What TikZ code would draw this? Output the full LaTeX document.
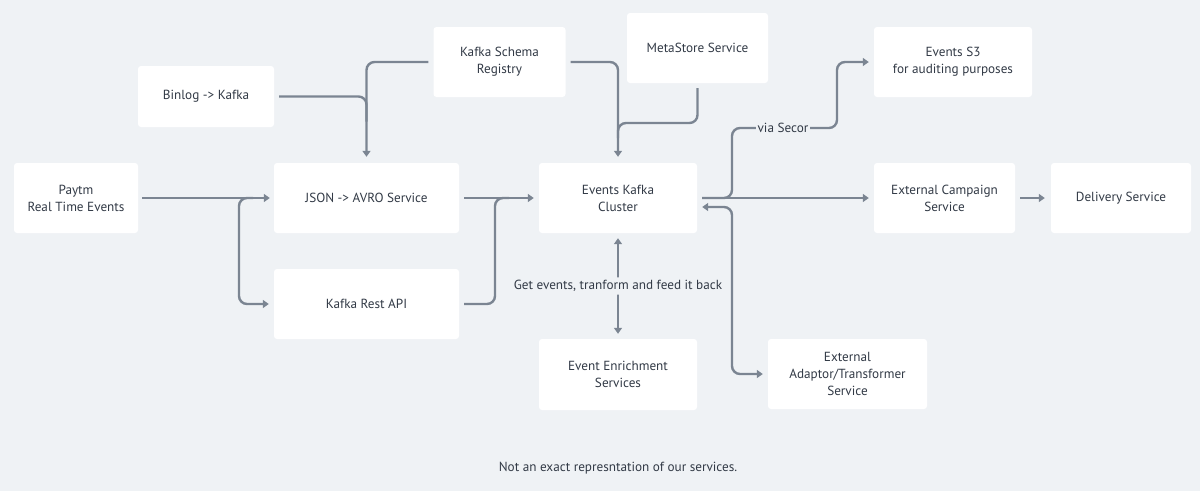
\documentclass[tikz,border=0pt]{standalone}
\usepackage{fontspec}
\setmainfont{PT Sans}
\usetikzlibrary{arrows.meta}
\definecolor{bg}{HTML}{EFF2F5}
\definecolor{txt}{HTML}{323A46}
\definecolor{ln}{HTML}{7B8592}
\tikzset{
  box/.style={rectangle, fill=white, rounded corners=3pt, inner sep=0pt, align=center,
    text=txt, font=\fontsize{13.2}{17}\selectfont},
  line/.style={draw=ln, line width=2.4pt, rounded corners=8pt},
  conn/.style={line, -{Triangle[width=8pt,length=6pt]}},
  conntwo/.style={line, {Triangle[width=8pt,length=6pt]}-{Triangle[width=8pt,length=6pt]}},
  lbl/.style={fill=bg, text=txt, inner sep=1.5pt, font=\fontsize{13.2}{17}\selectfont},
}
\begin{document}
\begin{tikzpicture}[x=1pt,y=-1pt]
\fill[bg] (0,0) rectangle (1200,491);
\useasboundingbox (0,0) rectangle (1200,491);

\node[box, minimum width=124pt, minimum height=70pt] (paytm) at (76,198) {Paytm\\Real Time Events};
\node[box, minimum width=185pt, minimum height=70pt] (json) at (366.5,198) {JSON -> AVRO Service};
\node[box, minimum width=185pt, minimum height=70pt] (rest) at (366.5,304) {Kafka Rest API};
\node[box, minimum width=136pt, minimum height=61pt] (binlog) at (206,96.5) {Binlog -> Kafka};
\node[box, minimum width=132pt, minimum height=70pt] (schema) at (499.5,62) {Kafka Schema\\Registry};
\node[box, minimum width=141pt, minimum height=70pt] (meta) at (697.5,48) {MetaStore Service};
\node[box, minimum width=158pt, minimum height=70pt] (kafka) at (618,198) {Events Kafka\\Cluster};
\node[box, minimum width=158pt, minimum height=70pt] (s3) at (953,62) {Events S3\\for auditing purposes};
\node[box, minimum width=141pt, minimum height=70pt] (campaign) at (944.5,198) {External Campaign\\Service};
\node[box, minimum width=140pt, minimum height=70pt] (delivery) at (1121,198) {Delivery Service};
\node[box, minimum width=158pt, minimum height=71pt] (enrich) at (618,374.5) {Event Enrichment\\Services};
\node[box, minimum width=159pt, minimum height=70pt] (adaptor) at (847.5,374) {External\\Adaptor/Transformer\\Service};

\coordinate (j1) at (239,198);
\coordinate (j2) at (495,198);
\coordinate (j5) at (618,123);
\coordinate (j6) at (732,128);
\coordinate (j7) at (837,128);
\coordinate (j8) at (732,207);

% Paytm -> JSON, branch to Rest
\draw[conn] ([xshift=4pt]paytm.east) -- ([xshift=-4pt]json.west);
\draw[conn] ([xshift=14pt]j1) -- (j1) -- (j1 |- rest.west) -- ([xshift=-5pt]rest.west);

% JSON -> Kafka, Rest joins
\draw[conn] ([xshift=5pt]json.east) -- ([xshift=-5pt]kafka.west);
\draw[line] ([xshift=5pt]rest.east) -- (rest.east -| j2) -- (j2) -- ([xshift=14pt]j2);

% Schema & Binlog -> JSON
\draw[conn] ([xshift=-5pt]schema.west) -- (schema.west -| json.north) -- ([yshift=6pt]json.north);
\draw[line] ([xshift=5pt]binlog.east) -- (binlog.east -| json.north) -- ++(0,25);

% Schema & MetaStore -> Kafka
\draw[conn] ([xshift=5pt]schema.east) -- (schema.east -| kafka.north) -- ([yshift=6pt]kafka.north);
\draw[line] ([yshift=-5pt]meta.south) -- (meta.south |- j5) -- (j5) -- ++(0,15);

% Kafka -> Campaign, via Secor -> S3
\draw[conn] ([xshift=5pt]kafka.east) -- ([xshift=-5pt]campaign.west);
\draw[conn] ([xshift=5pt]kafka.east) -- (kafka.east -| j6) -- (j6) -- (j7) -- (j7 |- s3.west) -- ([xshift=-5pt]s3.west);
\node[lbl] (secor) at (783,128) {via Secor};

% Kafka <-> Adaptor
\draw[conntwo] ([xshift=5pt,yshift=-9pt]kafka.east) -- (j8) -- (j8 |- adaptor.west) -- ([xshift=-5pt]adaptor.west);

% Kafka <-> Enrichment
\draw[conntwo] ([yshift=-5pt]kafka.south) -- ([yshift=5pt]enrich.north)
  node[lbl, midway, inner ysep=3pt] (getev) {Get events, tranform and feed it back};

% Campaign -> Delivery
\draw[conn] ([xshift=5pt]campaign.east) -- ([xshift=-6pt]delivery.west);

\node[text=txt, font=\fontsize{13.2}{17}\selectfont] (foot) at (618,468) {Not an exact represntation of our services.};
\end{tikzpicture}
\end{document}
